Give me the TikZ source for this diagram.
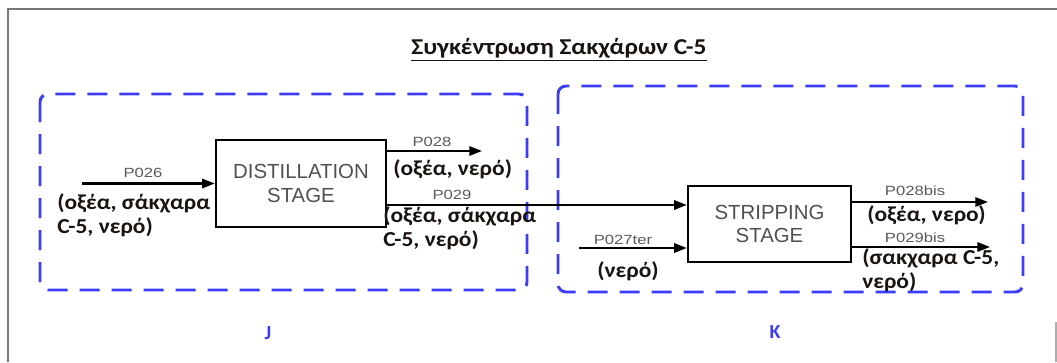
\documentclass[tikz,border=0pt]{standalone}
\usepackage{fontspec}
\setmainfont{Carlito}
\newfontfamily\arialf{Liberation Sans}
\newfontfamily\plf[FakeStretch=1.25]{Liberation Sans}
\newfontfamily\titlef[FakeStretch=1.12]{Carlito}
\newfontfamily\grf[FakeStretch=1.1]{Carlito}
\usetikzlibrary{arrows.meta}
\definecolor{dashblue}{RGB}{60,60,250}
\definecolor{boxtext}{RGB}{80,80,80}
\definecolor{plabel}{RGB}{90,90,90}
\definecolor{framegray}{RGB}{120,120,120}
\definecolor{gtext}{RGB}{25,20,15}
\begin{document}
\begin{tikzpicture}[x=0.75pt,y=-0.75pt,
  stage/.style={draw, line width=1.8pt, align=center, inner sep=0,
    font=\arialf\fontsize{15.3}{17.5}\selectfont, text=boxtext},
  flow/.style={line width=1.6pt, -{Triangle[length=9.5pt,width=7pt]}},
  pl/.style={font=\plf\fontsize{10}{12}\selectfont, text=plabel, inner sep=0},
  gl/.style={font=\grf\bfseries\fontsize{16}{18}\selectfont, text=gtext, anchor=west, inner sep=0, align=left},
  zone/.style={draw=dashblue, line width=2.2pt, dash pattern=on 15pt off 9pt, rounded corners=6pt},
  zl/.style={font=\bfseries\fontsize{15}{17}\selectfont, text=dashblue}]
\useasboundingbox (0,0) rectangle (1057,362);
% frame
\draw[framegray, line width=1.5pt] (8,362) -- (8,9) -- (1057,9);
\draw[framegray!60, line width=1.2pt] (1056,322) -- (1056,362);
% title
\node[font=\titlef\bfseries\fontsize{17}{20}\selectfont, text=gtext] (title) at (559,50) {\underline{Συγκέντρωση Σακχάρων C-5}};
% zones
\draw[zone] (40,94) rectangle (527,290);
\draw[zone] (558,86) rectangle (1023,292);
\node[zl] (J) at (268,333) {J};
\node[zl] (K) at (775,332) {K};
% stages
\node[stage, minimum width=127.5pt, minimum height=65.25pt] (dist) at (301,183.5) {DISTILLATION\\STAGE};
\node[stage, minimum width=122.25pt, minimum height=57pt] (strip) at (769.5,224) {STRIPPING\\STAGE};
% coordinates
\coordinate (p26s) at (82,183.5);
\coordinate (p28e) at (482,151);
\coordinate (p29y) at (0,205);
\coordinate (p27s) at (579,248);
\coordinate (p28be) at (988,202);
\coordinate (p29be) at (990,247);
% flows
\draw[flow] (p26s) -- (dist.west);
\draw[flow] (dist.east |- p28e) -- (p28e);
\draw[flow] (dist.east |- p29y) -- (strip.west |- p29y);
\draw[flow] (p27s) -- (strip.west |- p27s);
\draw[flow] (strip.east |- p28be) -- (p28be);
\draw[flow] (strip.east |- p29be) -- (p29be);
% stream labels
\node[pl] (l26) at (143,173) {P026};
\node[pl] (l28) at (432,142) {P028};
\node[pl] (l29) at (452,195) {P029};
\node[pl] (l27) at (623,240) {P027ter};
\node[pl] (l28b) at (915,191) {P028bis};
\node[pl] (l29b) at (915,238) {P029bis};
% compositions
\node[gl] (c26) at (57,215) {(οξέα, σάκχαρα\\C-5, νερό)};
\node[gl] (c28) at (393,169) {(οξέα, νερό)};
\node[gl] (c29) at (383,228.5) {(οξέα, σάκχαρα\\C-5, νερό)};
\node[font=\grf\bfseries\fontsize{16}{18}\selectfont, text=gtext, inner sep=0] (c27) at (628,271) {(νερό)};
\node[gl] (c28b) at (867,215) {(οξέα, νερο)};
\node[gl] (c29b) at (862,270.5) {(σακχαρα C-5,\\νερό)};
\end{tikzpicture}
\end{document}
